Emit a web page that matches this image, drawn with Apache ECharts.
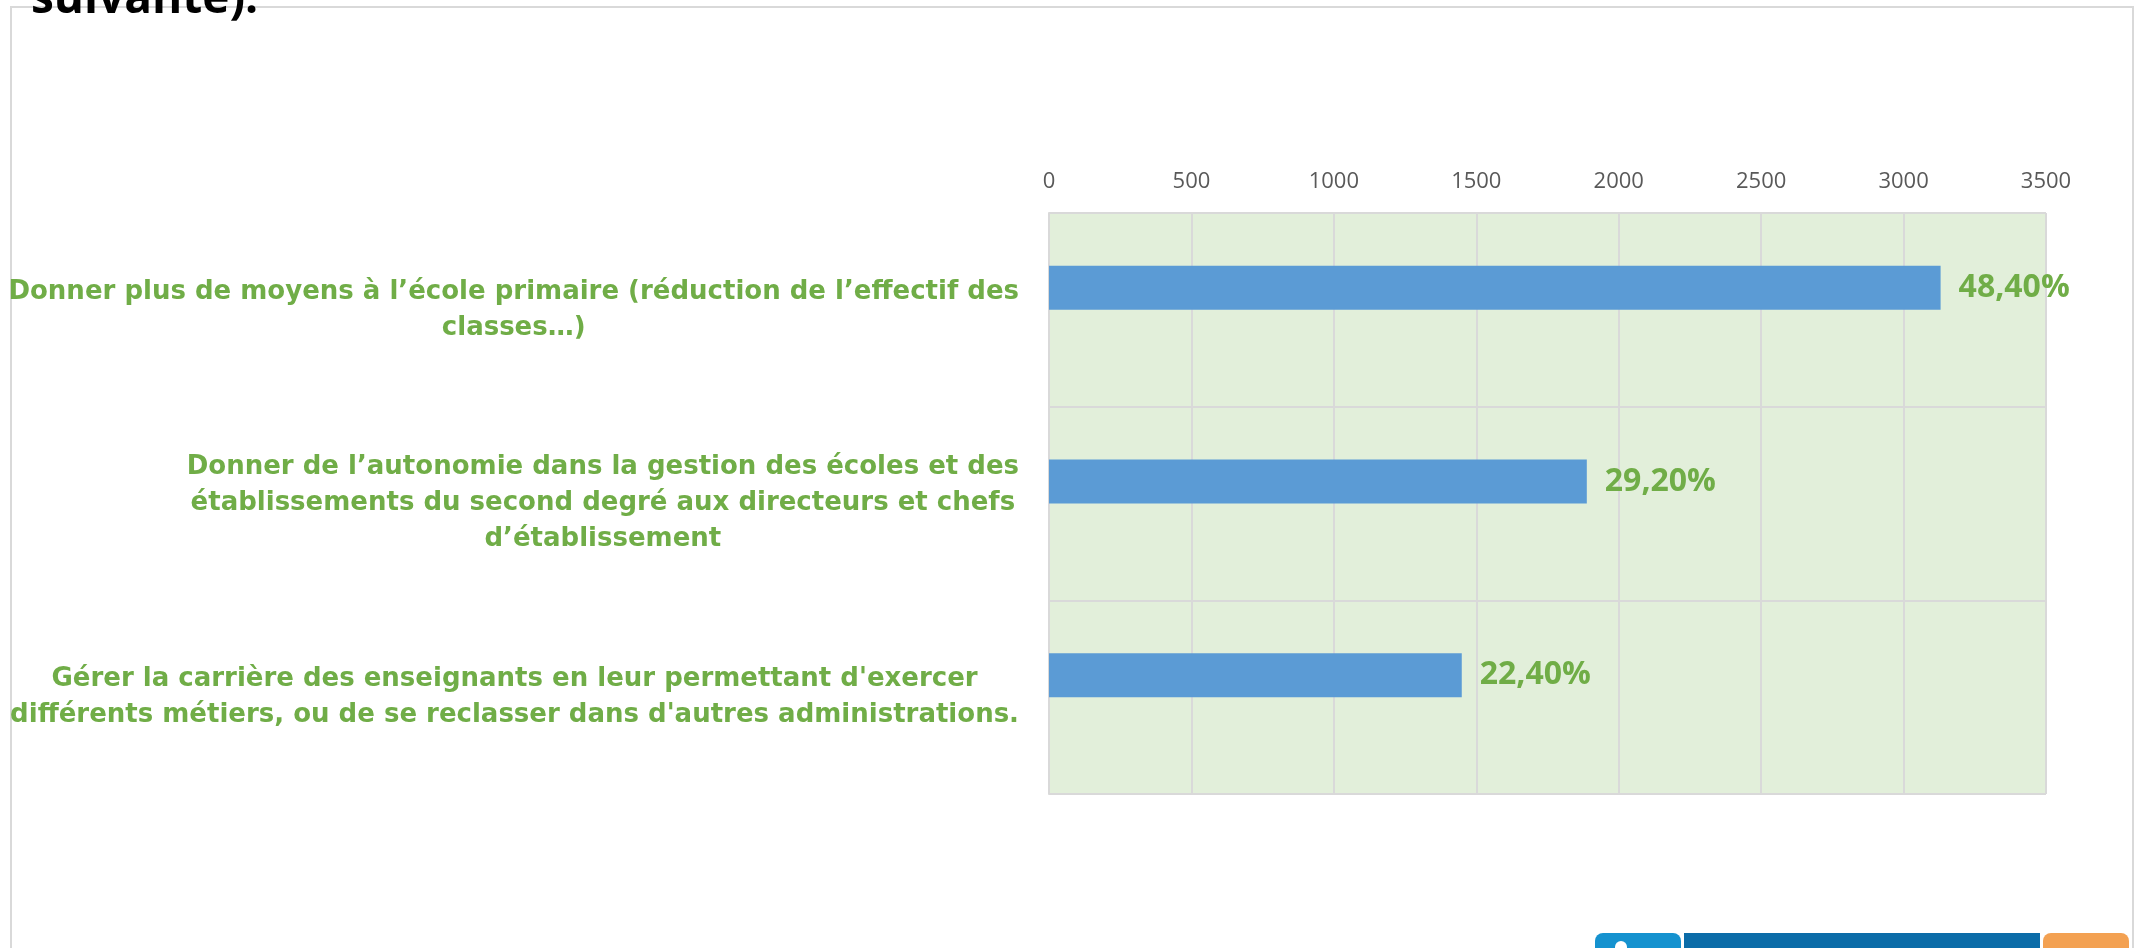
<!DOCTYPE html>
<html>
<head>
<meta charset="utf-8">
<script src="https://cdn.jsdelivr.net/npm/echarts@6/dist/echarts.min.js"></script>
<style>
html, body { margin: 0; padding: 0; background: #fff; }
#chart { width: 2136px; height: 948px; }
</style>
</head>
<body>
<div id="chart"></div>
<script>
var categories = [
    "Donner plus de moyens à l’école primaire (réduction de l’effectif des\nclasses…)",
    "Donner de l’autonomie dans la gestion des écoles et des\nétablissements du second degré aux directeurs et chefs\nd’établissement",
    "Gérer la carrière des enseignants en leur permettant d'exercer\ndifférents métiers, ou de se reclasser dans d'autres administrations."
]
var responses = [3130, 1888, 1449]
var percentLabels = ["48,40%", "29,20%", "22,40%"]
var tickValues = [0, 500, 1000, 1500, 2000, 2500, 3000, 3500]

var green = "#70AD47"
var gridGrey = "#D9D9D9"

var chartDom = document.getElementById("chart")
var myChart = echarts.init(chartDom)
var option

option = {
    animation: false,
    grid: {
        left: 1049,
        right: 90,
        top: 213,
        bottom: 154,
        outerBoundsMode: "none",
        show: true,
        backgroundColor: "#E2EFDA",
        borderWidth: 0
    },
    xAxis: {
        type: "value",
        position: "top",
        min: tickValues[0],
        max: tickValues[tickValues.length - 1],
        interval: tickValues[1] - tickValues[0],
        axisLine: { show: false },
        axisTick: { show: false },
        axisLabel: {
            margin: 20,
            color: "#595959",
            fontFamily: "Open Sans",
            fontSize: 22,
            formatter: function (v) { return String(v) }
        },
        splitLine: {
            lineStyle: { color: gridGrey, width: 2 }
        }
    },
    yAxis: {
        type: "category",
        inverse: true,
        data: categories,
        axisLine: {
            lineStyle: { color: gridGrey, width: 2 }
        },
        axisTick: {
            length: 10,
            lineStyle: { color: gridGrey, width: 2 }
        },
        splitLine: {
            show: true,
            lineStyle: { color: gridGrey, width: 2 }
        },
        axisLabel: {
            margin: 30,
            align: "right",
            formatter: function (value) {
                return value.split("\n").map(function (s) {
                    return "{c|" + s + "}"
                }).join("\n")
            },
            rich: {
                c: {
                    align: "center",
                    color: green,
                    fontFamily: "DejaVu Sans",
                    fontWeight: "bold",
                    fontSize: 26,
                    lineHeight: 36
                }
            }
        }
    },
    series: [
        {
            type: "bar",
            data: responses,
            barWidth: 44,
            barGap: "0%",
            itemStyle: { color: "#5B9BD5" },
            label: {
                show: true,
                position: "right",
                distance: 18,
                color: green,
                fontFamily: "Open Sans",
                fontWeight: "bold",
                fontSize: 32,
                formatter: function (p) {
                    return percentLabels[p.dataIndex]
                }
            }
        },
        {
            // empty companion series (as in the original sheet) keeps the bar in the upper half of each band
            type: "bar",
            data: [null, null, null],
            barWidth: 44
        }
    ],
    graphic: [
        {
            type: "rect",
            shape: { x: 11, y: 7, width: 2122, height: 1000 },
            style: { fill: null, stroke: gridGrey, lineWidth: 2 },
            silent: true
        },
        {
            type: "text",
            x: 31,
            y: 0,
            style: {
                text: "suivante).",
                font: "bold 46px 'Open Sans'",
                fill: "#000",
                verticalAlign: "middle"
            }
        },
        {
            type: "rect",
            shape: { x: 1595, y: 933, width: 86, height: 30, r: 8 },
            style: { fill: "#1592CF" }
        },
        {
            type: "circle",
            shape: { cx: 1621, cy: 947, r: 6 },
            style: { fill: "#fff" }
        },
        {
            type: "rect",
            shape: { x: 1684, y: 933, width: 356, height: 30 },
            style: { fill: "#0B6CA8" }
        },
        {
            type: "rect",
            shape: { x: 2043, y: 933, width: 86, height: 30, r: 8 },
            style: { fill: "#F3A152" }
        }
    ]
}

option && myChart.setOption(option)
</script>
</body>
</html>
